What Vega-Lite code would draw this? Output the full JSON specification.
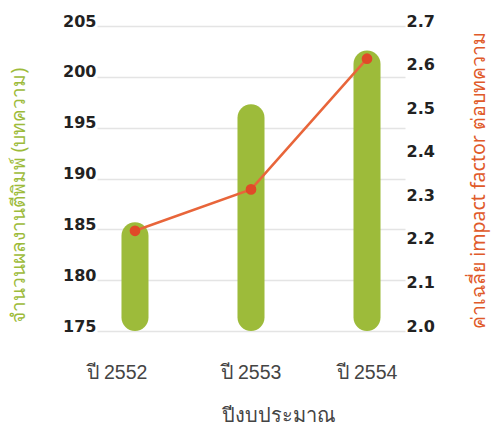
{
  "$schema": "https://vega.github.io/schema/vega-lite/v6.json",
  "autosize": {"type": "none"},
  "width": 308,
  "height": 305,
  "padding": {"left": 97, "top": 26, "right": 97, "bottom": 104},
  "background": "white",
  "config": {
    "view": {"stroke": null},
    "axis": {"labelFont": "DejaVu Sans", "titleFont": "Noto Sans"}
  },
  "data": {
    "values": [
      {"year": "ปี 2552", "papers": 185.7, "impact": 2.23},
      {"year": "ปี 2553", "papers": 197.3, "impact": 2.325},
      {"year": "ปี 2554", "papers": 202.6, "impact": 2.625}
    ]
  },
  "encoding": {
    "x": {
      "field": "year",
      "type": "nominal",
      "scale": {"paddingInner": 0.767, "paddingOuter": 0.211},
      "axis": {
        "title": "ปีงบประมาณ",
        "labelAngle": 0,
        "domain": false,
        "ticks": false,
        "labelPadding": 32,
        "labelFont": "Liberation Sans, Noto Sans",
        "labelFontSize": 19.5,
        "labelColor": "#444444",
        "labelOffset": {"condition": {"test": "datum.value === 'ปี 2552'", "value": -18}, "value": 0},
        "titleFont": "Liberation Sans, Noto Sans",
        "titleFontSize": 20,
        "titleFontWeight": "normal",
        "titleColor": "#444444",
        "titlePadding": 24,
        "titleX": 181
      }
    }
  },
  "layer": [
    {
      "mark": {"type": "bar", "cornerRadius": 13.5, "color": "#9dbb3a"},
      "encoding": {
        "y": {
          "field": "papers",
          "type": "quantitative",
          "scale": {"domain": [175, 205], "zero": false, "nice": false},
          "axis": {
            "title": "จำนวนผลงานตีพิมพ์ (บทความ)",
            "values": [175, 180, 185, 190, 195, 200, 205],
            "orient": "left",
            "domain": false,
            "ticks": false,
            "grid": true,
            "gridColor": "#e4e4e4",
            "gridWidth": 1.5,
            "labelBaseline": "alphabetic",
            "labelPadding": 1,
            "labelFontSize": 16,
            "labelFontWeight": "bold",
            "labelColor": "#222222",
            "titleColor": "#9dbb3a",
            "titleFontSize": 19,
            "titleFontWeight": "normal",
            "titleAngle": -90,
            "titleX": -79,
            "titleY": 169,
            "titleAlign": "center",
            "titleBaseline": "middle"
          }
        },
        "y2": {"datum": 175}
      }
    },
    {
      "encoding": {
        "y": {
          "field": "impact",
          "type": "quantitative",
          "scale": {"domain": [2.0, 2.7], "zero": false, "nice": false},
          "axis": {
            "title": "ค่าเฉลี่ย impact factor ต่อบทความ",
            "orient": "right",
            "values": [2.0, 2.1, 2.2, 2.3, 2.4, 2.5, 2.6, 2.7],
            "format": ".1f",
            "domain": false,
            "ticks": false,
            "grid": false,
            "labelBaseline": "alphabetic",
            "labelPadding": 1,
            "labelFontSize": 16,
            "labelFontWeight": "bold",
            "labelColor": "#222222",
            "titleColor": "#e05a2a",
            "titleFontSize": 19.5,
            "titleFontWeight": "normal",
            "titleAngle": -90,
            "titleX": 73,
            "titleY": 154,
            "titleAlign": "center",
            "titleBaseline": "middle"
          }
        }
      },
      "layer": [
        {"mark": {"type": "line", "color": "#e8653a", "strokeWidth": 2.5}},
        {"mark": {"type": "point", "filled": true, "color": "#e04a28", "size": 115, "opacity": 1}}
      ]
    }
  ],
  "resolve": {"scale": {"y": "independent"}}
}
